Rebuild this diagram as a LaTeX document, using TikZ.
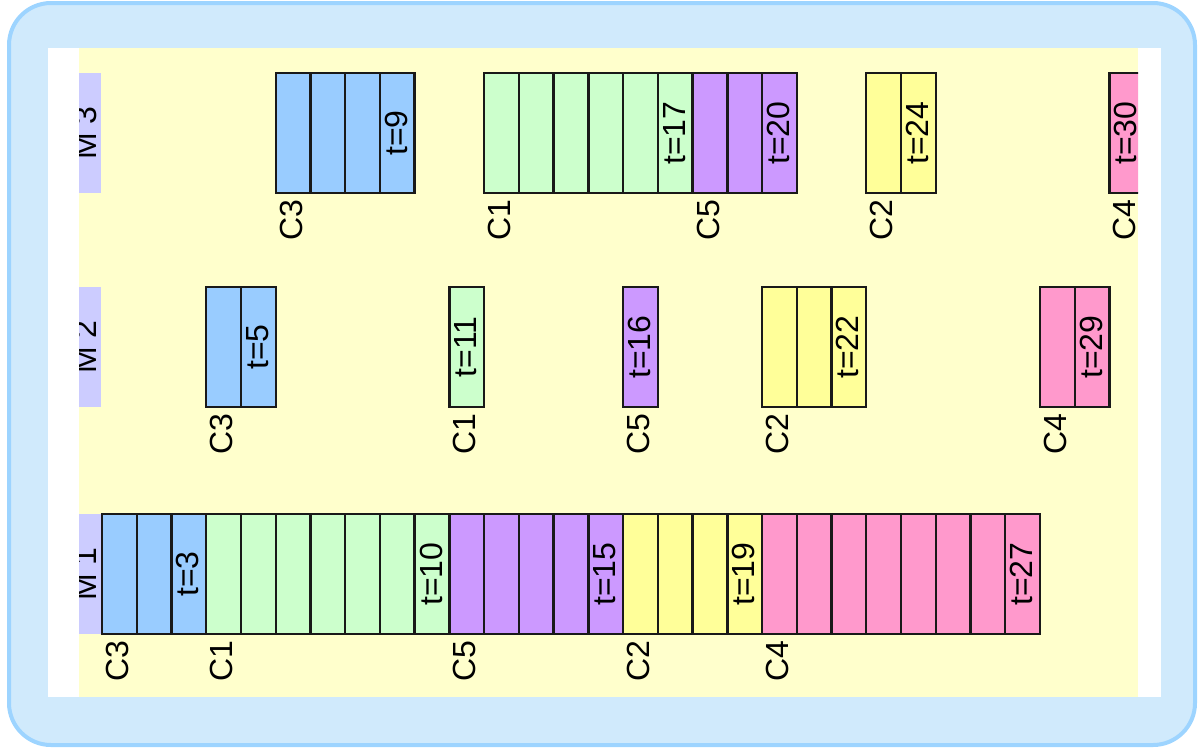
\documentclass[tikz,border=0pt]{standalone}
\usepackage{fontspec}
\setmainfont{Liberation Sans}
\definecolor{frameblue}{HTML}{D0EAFC}
\definecolor{frameedge}{HTML}{9DD4FF}
\definecolor{bgyellow}{HTML}{FFFFCC}
\definecolor{mlav}{HTML}{CCCCFF}
\definecolor{cthree}{HTML}{99CCFF}
\definecolor{cone}{HTML}{CCFFCC}
\definecolor{cfive}{HTML}{CC99FF}
\definecolor{ctwo}{HTML}{FFFF99}
\definecolor{cfour}{HTML}{FF99CC}
\newcommand\drawjob[6]{%
  \pgfmathtruncatemacro\lastk{#3-1}%
  \foreach \k in {#2,...,\lastk}{%
    \draw[cell, fill=#4] ({102+34.74*\k},#1) rectangle ({102+34.74*(\k+1)},#1+120);
  }%
  \node[lbl] (c-#6) at ({102+34.74*#2+15.5},#1+147) {#5};
  \node[lbl] (t-#6) at ({102+34.74*(#3-0.5)-1},#1+60) {t=#3};
}
\begin{document}
\begin{tikzpicture}[x=1pt,y=-1pt,
  cell/.style={draw=black!90, line width=2.4pt},
  lbl/.style={rotate=90, inner sep=0pt, font=\fontsize{32}{32}\selectfont, anchor=center},
  mbox/.style={fill=mlav},
]
\useasboundingbox (0,0) rectangle (1198,750);
\draw[fill=frameblue, draw=frameedge, line width=4pt, rounded corners=42pt] (9,3) rectangle (1195,745);
\fill[white] (48,48) rectangle (1161,697);
\begin{scope}
  \clip (79,48) rectangle (1138,697);
  \fill[bgyellow] (79,48) rectangle (1138,697);
  % machine labels
  \fill[mbox] (70,73) rectangle (101,193);
  \node[lbl] (m3) at (85,133) {M 3};
  \fill[mbox] (70,287) rectangle (101,407);
  \node[lbl] (m2) at (85,347) {M 2};
  \fill[mbox] (70,514) rectangle (101,634);
  \node[lbl] (m1) at (85,574) {M 1};
  % M1
  \drawjob{514}{0}{3}{cthree}{C3}{m1a}
  \drawjob{514}{3}{10}{cone}{C1}{m1b}
  \drawjob{514}{10}{15}{cfive}{C5}{m1c}
  \drawjob{514}{15}{19}{ctwo}{C2}{m1d}
  \drawjob{514}{19}{27}{cfour}{C4}{m1e}
  % M2
  \drawjob{287}{3}{5}{cthree}{C3}{m2a}
  \drawjob{287}{10}{11}{cone}{C1}{m2b}
  \drawjob{287}{15}{16}{cfive}{C5}{m2c}
  \drawjob{287}{19}{22}{ctwo}{C2}{m2d}
  \drawjob{287}{27}{29}{cfour}{C4}{m2e}
  % M3
  \drawjob{73}{5}{9}{cthree}{C3}{m3a}
  \drawjob{73}{11}{17}{cone}{C1}{m3b}
  \drawjob{73}{17}{20}{cfive}{C5}{m3c}
  \drawjob{73}{22}{24}{ctwo}{C2}{m3d}
  \drawjob{73}{29}{30}{cfour}{C4}{m3e}
\end{scope}
\end{tikzpicture}
\end{document}
